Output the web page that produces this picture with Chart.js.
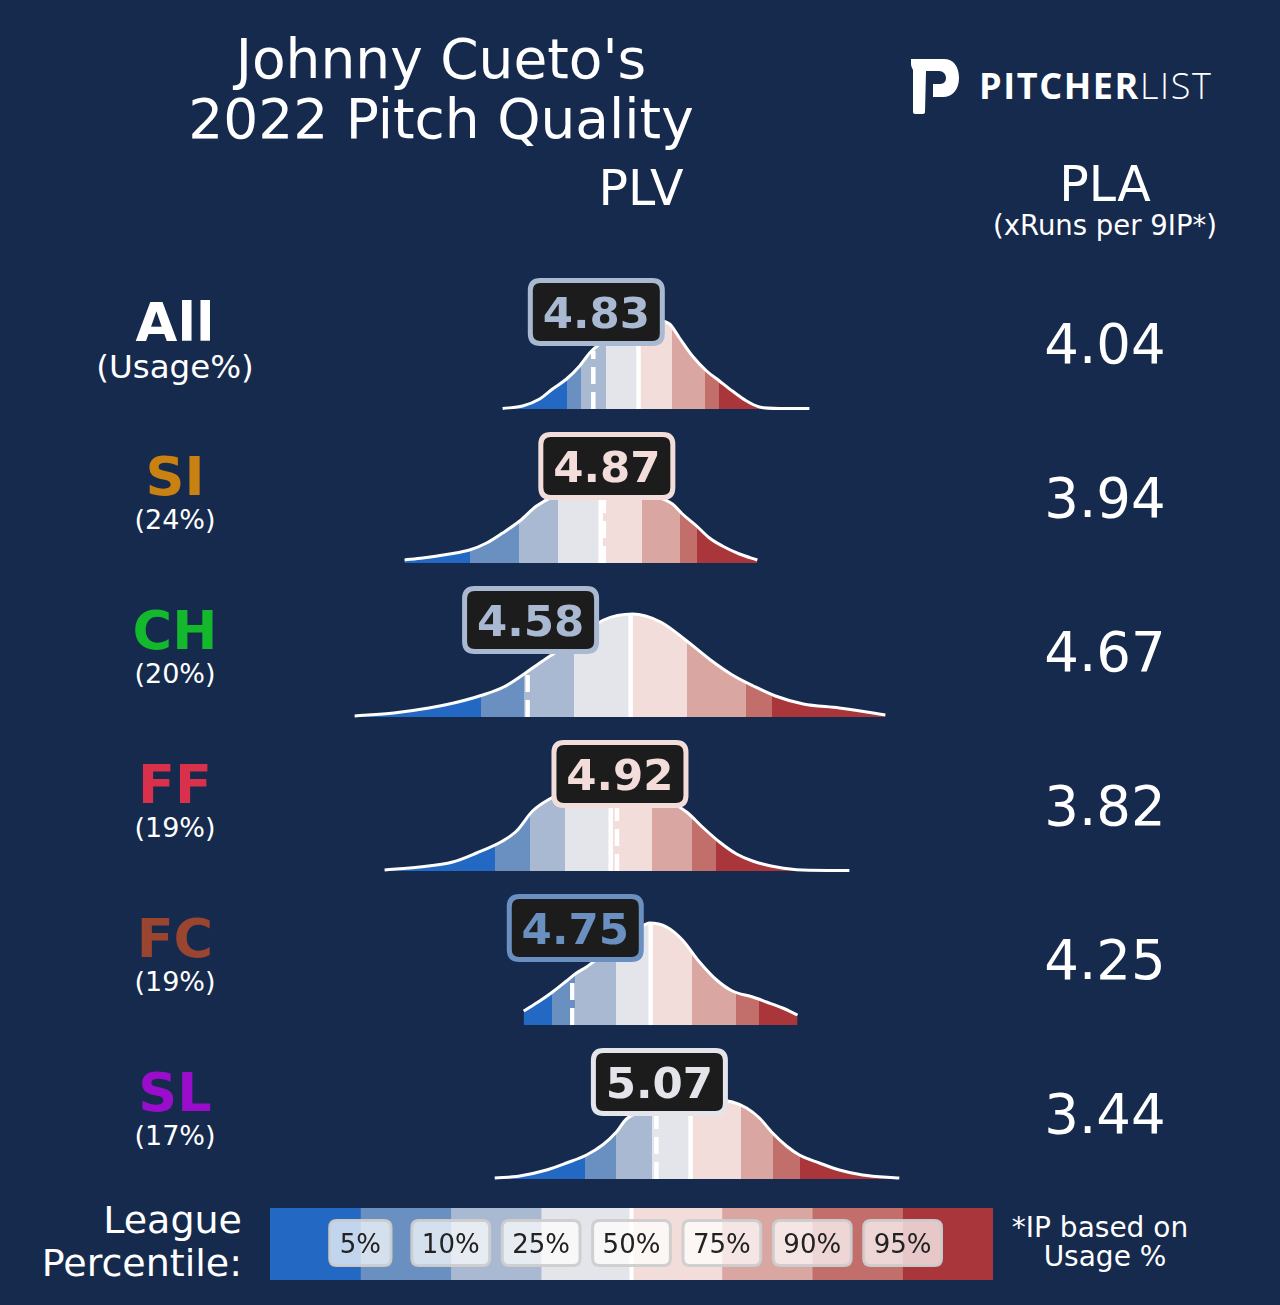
<!DOCTYPE html>
<html>
<head>
<meta charset="utf-8">
<script src="https://cdn.jsdelivr.net/npm/chart.js@4.4.1/dist/chart.umd.min.js"></script>
<style>
html, body { margin: 0; padding: 0; }
body { width: 1280px; height: 1305px; background: #162a4e; position: relative; overflow: hidden;
       font-family: "DejaVu Sans", sans-serif; color: #fff; }
.t { position: absolute; white-space: nowrap; }
#plv { position: absolute; left: 270px; top: 255px; }
#key { position: absolute; left: 270px; top: 1208px; }
#logo { position: absolute; left: 0; top: 0; }
</style>
</head>
<body>
<svg id="logo" width="1280" height="200">
  <path fill="#fff" d="M911 59 L944 59 C953 59 959 66 959 78 C959 90 952 97 943 97 L933 97 L933 84 L940 84 C944 84 946 81 946 78 C946 74 943 71 939 71 L926 71 L925 112 C925 113 924 114 923 114 L915 114 C914 114 913 113 913 112 L913 70 C912 68 911 66 911 64 Z"/>
</svg>
<canvas id="plv" width="736" height="939"></canvas>
<canvas id="key" width="723" height="72"></canvas>
<script>
const pitches = ['All', 'SI', 'CH', 'FF', 'FC', 'SL'];
const usage = ['(Usage%)', '(24%)', '(20%)', '(19%)', '(19%)', '(17%)'];
const pitchColors = ['#ffffff', '#c98112', '#14b82c', '#d9304c', '#9a4530', '#9a0dcc'];
const plv = [4.83, 4.87, 4.58, 4.92, 4.75, 5.07];
const pla = ['4.04', '3.94', '4.67', '3.82', '4.25', '3.44'];
const pctLabels = ['5%', '10%', '25%', '50%', '75%', '90%', '95%'];
const bandColors = ['#2369c3', '#6a8fc1', '#a9b9d1', '#e4e5ea', '#f2dddb', '#d9a6a2', '#c26e6b', '#a8363a'];
const keySegments = [1, 1, 1, 1, 1, 1, 1, 1];

// league PLV at the 5/10/25/50/75/90/95th percentile, per pitch type
const pctAll = [4.728, 4.785, 4.880, 5.002, 5.131, 5.253, 5.310];
const pctSI  = [4.359, 4.546, 4.694, 4.858, 5.017, 5.158, 5.223];
const pctCH  = [4.401, 4.565, 4.755, 4.972, 5.185, 5.409, 5.508];
const pctFF  = [4.455, 4.588, 4.721, 4.896, 5.055, 5.207, 5.295];
const pctFC  = [4.671, 4.760, 4.915, 5.048, 5.207, 5.371, 5.462];
const pctSL  = [4.800, 4.915, 5.055, 5.200, 5.390, 5.512, 5.618];

// density of the pitcher's PLV (x = PLV, d = relative density)
const xAll = [4.485, 4.561, 4.626, 4.675, 4.728, 4.778, 4.816, 4.854, 4.911, 4.968, 5.025, 5.082, 5.120, 5.158, 5.207, 5.261, 5.310, 5.359, 5.413, 5.462, 5.538, 5.652];
const dAll = [0.005, 0.03, 0.10, 0.20, 0.30, 0.43, 0.56, 0.65, 0.75, 0.81, 0.85, 0.88, 0.85, 0.71, 0.53, 0.38, 0.28, 0.18, 0.08, 0.02, 0.005, 0.005];
const xSI = [4.112, 4.181, 4.283, 4.359, 4.424, 4.485, 4.550, 4.614, 4.683, 4.759, 4.835, 4.911, 4.987, 5.063, 5.131, 5.169, 5.223, 5.272, 5.321, 5.386, 5.454];
const dSI = [0.03, 0.05, 0.09, 0.13, 0.20, 0.30, 0.42, 0.57, 0.67, 0.73, 0.76, 0.76, 0.73, 0.67, 0.59, 0.49, 0.37, 0.25, 0.17, 0.09, 0.03];
const xCH = [3.922, 4.071, 4.204, 4.299, 4.409, 4.489, 4.572, 4.626, 4.683, 4.740, 4.797, 4.869, 4.979, 5.086, 5.181, 5.276, 5.359, 5.439, 5.523, 5.629, 5.766, 5.941];
const dCH = [0.01, 0.04, 0.09, 0.14, 0.22, 0.30, 0.44, 0.54, 0.64, 0.74, 0.84, 0.97, 1.03, 0.95, 0.77, 0.57, 0.42, 0.31, 0.21, 0.13, 0.09, 0.02];
const xFF = [4.036, 4.169, 4.295, 4.386, 4.485, 4.538, 4.599, 4.664, 4.721, 4.797, 4.873, 4.949, 5.025, 5.101, 5.185, 5.245, 5.310, 5.375, 5.436, 5.527, 5.626, 5.804];
const dFF = [0.01, 0.04, 0.09, 0.18, 0.30, 0.40, 0.60, 0.72, 0.79, 0.84, 0.86, 0.85, 0.80, 0.72, 0.59, 0.44, 0.29, 0.17, 0.10, 0.04, 0.01, 0.005];
const xFC = [4.565, 4.626, 4.675, 4.728, 4.766, 4.804, 4.854, 4.930, 5.006, 5.044, 5.109, 5.169, 5.234, 5.299, 5.359, 5.436, 5.489, 5.550, 5.607];
const dFC = [0.14, 0.24, 0.33, 0.44, 0.52, 0.58, 0.68, 0.83, 0.97, 1.02, 0.98, 0.85, 0.63, 0.45, 0.34, 0.28, 0.23, 0.17, 0.10];
const xSL = [4.455, 4.550, 4.652, 4.728, 4.804, 4.865, 4.918, 4.956, 5.025, 5.101, 5.196, 5.280, 5.359, 5.413, 5.462, 5.512, 5.565, 5.614, 5.690, 5.766, 5.854, 5.994];
const dSL = [0.01, 0.03, 0.09, 0.16, 0.24, 0.34, 0.47, 0.60, 0.68, 0.74, 0.78, 0.80, 0.77, 0.71, 0.61, 0.46, 0.33, 0.24, 0.16, 0.09, 0.04, 0.01];

const rowX = [xAll, xSI, xCH, xFF, xFC, xSL];
const rowD = [dAll, dSI, dCH, dFF, dFC, dSL];
const rowPct = [pctAll, pctSI, pctCH, pctFF, pctFC, pctSL];

const rowGap = 1.54;
const boxLift = 0.97;
function base(i) { return (pitches.length - 1 - i) * rowGap; }

function heightAt(xs, ds, v) {
  for (let k = 1; k < xs.length; k++) {
    if (v <= xs[k]) {
      const f = (v - xs[k - 1]) / (xs[k] - xs[k - 1]);
      return ds[k - 1] + f * (ds[k] - ds[k - 1]);
    }
  }
  return ds[ds.length - 1];
}

// text placed by its baseline (DejaVu metrics)
function addText(str, x, y, size, align, extra) {
  const d = document.createElement('div');
  d.className = 't';
  d.textContent = str;
  d.style.fontSize = size + 'px';
  d.style.lineHeight = (size * 1.2) + 'px';
  d.style.top = (y - 0.946 * size) + 'px';
  if (align === 'center') { d.style.left = x + 'px'; d.style.transform = 'translateX(-50%)'; }
  else if (align === 'right') { d.style.right = (1280 - x) + 'px'; }
  else { d.style.left = x + 'px'; }
  Object.assign(d.style, extra || {});
  document.body.appendChild(d);
  return d;
}

addText("Johnny Cueto's", 441, 78, 55, 'center');
addText('2022 Pitch Quality', 441, 138, 55, 'center');
addText('PLV', 641, 206, 49, 'center');
addText('PLA', 1105, 202, 49, 'center');
addText('(xRuns per 9IP*)', 1105, 235, 27.5, 'center');
pitches.forEach((p, i) => {
  addText(p, 175, 342 + 154 * i, 54, 'center', { fontWeight: 'bold', color: pitchColors[i] });
  if (i === 0) addText(usage[i], 175, 379, 32.5, 'center');
  else addText(usage[i], 175, 376 + 154 * i, 27, 'center');
  addText(pla[i], 1105, 364 + 154 * i, 54.5, 'center');
});
addText('League', 242, 1234, 38, 'right');
addText('Percentile:', 242, 1277, 38, 'right');
addText('*IP based on', 1100, 1237, 28, 'center');
addText('Usage %', 1105, 1266, 28, 'center');

const logo = document.createElement('div');
logo.className = 't';
logo.style.cssText = 'left:979px;top:65px;font-family:"Open Sans",sans-serif;font-size:36px;line-height:42px;letter-spacing:1.6px;color:#fff;';
logo.innerHTML = '<span style="font-weight:700">PITCHER</span><span style="font-weight:300">LIST</span>';
document.body.appendChild(logo);

function bandFill(c) {
  const chart = c.chart;
  const area = chart.chartArea;
  if (!area || c.dataset.row === undefined) return bandColors[3];
  const xs = chart.scales.x;
  const w = area.right - area.left;
  const g = chart.ctx.createLinearGradient(area.left, 0, area.right, 0);
  g.addColorStop(0, bandColors[0]);
  rowPct[c.dataset.row].forEach((cut, k) => {
    const p = Math.min(1, Math.max(0, (xs.getPixelForValue(cut) - area.left) / w));
    g.addColorStop(p, bandColors[k]);
    g.addColorStop(p, bandColors[k + 1]);
  });
  g.addColorStop(1, bandColors[7]);
  return g;
}

function roundBox(ctx, x, y, w, h, r) {
  ctx.beginPath();
  ctx.moveTo(x + r, y);
  ctx.lineTo(x + w - r, y);
  ctx.quadraticCurveTo(x + w, y, x + w, y + r);
  ctx.lineTo(x + w, y + h - r);
  ctx.quadraticCurveTo(x + w, y + h, x + w - r, y + h);
  ctx.lineTo(x + r, y + h);
  ctx.quadraticCurveTo(x, y + h, x, y + h - r);
  ctx.lineTo(x, y + r);
  ctx.quadraticCurveTo(x, y, x + r, y);
  ctx.closePath();
}

const datasets = [];
pitches.forEach((p, i) => {
  const b = base(i);
  const med = rowPct[i][3];
  datasets.push({
    data: [{ x: med, y: b }, { x: med, y: b + heightAt(rowX[i], rowD[i], med) - 0.01 }],
    borderColor: '#ffffff', borderWidth: 4.5, pointRadius: 0, fill: false, order: 0
  });
  datasets.push({
    data: [{ x: plv[i], y: b }, { x: plv[i], y: b + heightAt(rowX[i], rowD[i], plv[i]) - 0.01 }],
    borderColor: '#ffffff', borderWidth: 4.5, borderDash: [17, 8], pointRadius: 0, fill: false, order: 0
  });
  datasets.push({
    row: i,
    data: rowX[i].map((x, k) => ({ x: x, y: b + rowD[i][k] })),
    fill: { value: b },
    backgroundColor: bandFill,
    borderColor: '#ffffff', borderWidth: 3, pointRadius: 0,
    cubicInterpolationMode: 'monotone', order: 1
  });
});

const boxPlugin = {
  id: 'plvBoxes',
  afterDatasetsDraw(chart) {
    const { ctx, scales } = chart;
    ctx.save();
    pitches.forEach((p, i) => {
      const band = rowPct[i].filter(c => c < plv[i]).length;
      const col = bandColors[band];
      const cx = scales.x.getPixelForValue(plv[i]) + 3;
      const cy = scales.y.getPixelForValue(base(i) + boxLift);
      const w = 132, h = 63;
      roundBox(ctx, cx - w / 2, cy - h / 2, w, h, 10);
      ctx.fillStyle = '#1c1c1c';
      ctx.fill();
      ctx.lineWidth = 5;
      ctx.strokeStyle = col;
      ctx.stroke();
      ctx.fillStyle = col;
      ctx.font = 'bold 43.5px "DejaVu Sans"';
      ctx.textAlign = 'center';
      ctx.textBaseline = 'alphabetic';
      ctx.fillText(plv[i].toFixed(2), cx, cy + 15.7);
    });
    ctx.restore();
  }
};

new Chart(document.getElementById('plv'), {
  type: 'line',
  data: { datasets: datasets },
  options: {
    responsive: false,
    animation: false,
    events: [],
    layout: { padding: 0 },
    plugins: { legend: { display: false }, tooltip: { enabled: false } },
    scales: {
      x: { type: 'linear', min: 3.6, max: 6.4, display: false },
      y: { type: 'linear', min: -0.15, max: 9.24, display: false }
    }
  },
  plugins: [boxPlugin]
});

const keyPlugin = {
  id: 'keyLabels',
  afterDatasetsDraw(chart) {
    const { ctx, scales, chartArea } = chart;
    ctx.save();
    const mid = scales.x.getPixelForValue(4);
    ctx.fillStyle = '#ffffff';
    ctx.fillRect(mid - 2, chartArea.top, 4, chartArea.bottom - chartArea.top);
    ctx.font = '26px "DejaVu Sans"';
    ctx.textAlign = 'center';
    ctx.textBaseline = 'alphabetic';
    const cy = (chartArea.top + chartArea.bottom) / 2 - 1;
    pctLabels.forEach((lab, k) => {
      const cx = scales.x.getPixelForValue(k + 1);
      const w = ctx.measureText(lab).width + 20, h = 45;
      roundBox(ctx, cx - w / 2, cy - h / 2, w, h, 7);
      ctx.fillStyle = 'rgba(255,255,255,0.72)';
      ctx.fill();
      ctx.lineWidth = 3;
      ctx.strokeStyle = 'rgba(205,205,205,0.95)';
      ctx.stroke();
      ctx.fillStyle = '#222222';
      ctx.fillText(lab, cx, cy + 9.5);
    });
    ctx.restore();
  }
};

new Chart(document.getElementById('key'), {
  type: 'bar',
  data: {
    labels: [''],
    datasets: keySegments.map((v, k) => ({
      data: [v], backgroundColor: bandColors[k], borderWidth: 0,
      barPercentage: 1, categoryPercentage: 1
    }))
  },
  options: {
    indexAxis: 'y',
    responsive: false,
    animation: false,
    events: [],
    layout: { padding: 0 },
    plugins: { legend: { display: false }, tooltip: { enabled: false } },
    scales: {
      x: { stacked: true, display: false, min: 0, max: 8 },
      y: { stacked: true, display: false }
    }
  },
  plugins: [keyPlugin]
});
</script>
</body>
</html>
